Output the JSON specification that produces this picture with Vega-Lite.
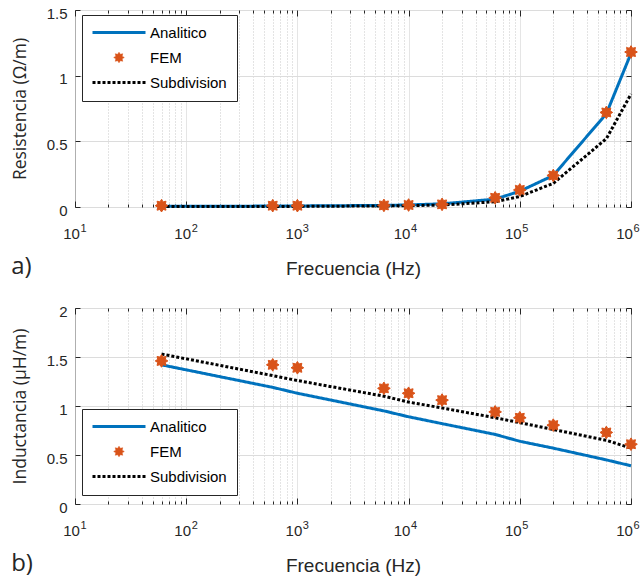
{
  "$schema": "https://vega.github.io/schema/vega-lite/v6.json",
  "padding": {"left": 10, "top": 5, "right": 5, "bottom": 0},
  "spacing": 23,
  "datasets": {
    "res": [
      {"f": 60, "serie": "Analitico", "v": 0.005},
      {"f": 600, "serie": "Analitico", "v": 0.007},
      {"f": 1000, "serie": "Analitico", "v": 0.008},
      {"f": 6000, "serie": "Analitico", "v": 0.012},
      {"f": 10000, "serie": "Analitico", "v": 0.016},
      {"f": 20000, "serie": "Analitico", "v": 0.024},
      {"f": 60000, "serie": "Analitico", "v": 0.06},
      {"f": 100000, "serie": "Analitico", "v": 0.12},
      {"f": 200000, "serie": "Analitico", "v": 0.24},
      {"f": 600000, "serie": "Analitico", "v": 0.71},
      {"f": 1000000, "serie": "Analitico", "v": 1.17},
      {"f": 60, "serie": "FEM", "v": 0.01},
      {"f": 600, "serie": "FEM", "v": 0.01},
      {"f": 1000, "serie": "FEM", "v": 0.01},
      {"f": 6000, "serie": "FEM", "v": 0.012},
      {"f": 10000, "serie": "FEM", "v": 0.015},
      {"f": 20000, "serie": "FEM", "v": 0.02},
      {"f": 60000, "serie": "FEM", "v": 0.07},
      {"f": 100000, "serie": "FEM", "v": 0.13},
      {"f": 200000, "serie": "FEM", "v": 0.24},
      {"f": 600000, "serie": "FEM", "v": 0.72},
      {"f": 1000000, "serie": "FEM", "v": 1.18},
      {"f": 60, "serie": "Subdivision", "v": 0.003},
      {"f": 600, "serie": "Subdivision", "v": 0.004},
      {"f": 1000, "serie": "Subdivision", "v": 0.005},
      {"f": 6000, "serie": "Subdivision", "v": 0.008},
      {"f": 10000, "serie": "Subdivision", "v": 0.01},
      {"f": 20000, "serie": "Subdivision", "v": 0.015},
      {"f": 60000, "serie": "Subdivision", "v": 0.04},
      {"f": 100000, "serie": "Subdivision", "v": 0.08},
      {"f": 200000, "serie": "Subdivision", "v": 0.18},
      {"f": 600000, "serie": "Subdivision", "v": 0.52},
      {"f": 1000000, "serie": "Subdivision", "v": 0.86}
    ],
    "ind": [
      {"f": 60, "serie": "Analitico", "v": 1.42},
      {"f": 600, "serie": "Analitico", "v": 1.19},
      {"f": 1000, "serie": "Analitico", "v": 1.13},
      {"f": 6000, "serie": "Analitico", "v": 0.95},
      {"f": 10000, "serie": "Analitico", "v": 0.89},
      {"f": 20000, "serie": "Analitico", "v": 0.82},
      {"f": 60000, "serie": "Analitico", "v": 0.71},
      {"f": 100000, "serie": "Analitico", "v": 0.64},
      {"f": 200000, "serie": "Analitico", "v": 0.57},
      {"f": 600000, "serie": "Analitico", "v": 0.45},
      {"f": 1000000, "serie": "Analitico", "v": 0.39},
      {"f": 60, "serie": "FEM", "v": 1.46},
      {"f": 600, "serie": "FEM", "v": 1.42},
      {"f": 1000, "serie": "FEM", "v": 1.39},
      {"f": 6000, "serie": "FEM", "v": 1.18},
      {"f": 10000, "serie": "FEM", "v": 1.13},
      {"f": 20000, "serie": "FEM", "v": 1.06},
      {"f": 60000, "serie": "FEM", "v": 0.94},
      {"f": 100000, "serie": "FEM", "v": 0.88},
      {"f": 200000, "serie": "FEM", "v": 0.805},
      {"f": 600000, "serie": "FEM", "v": 0.73},
      {"f": 1000000, "serie": "FEM", "v": 0.61},
      {"f": 60, "serie": "Subdivision", "v": 1.53},
      {"f": 600, "serie": "Subdivision", "v": 1.31},
      {"f": 1000, "serie": "Subdivision", "v": 1.26},
      {"f": 6000, "serie": "Subdivision", "v": 1.10},
      {"f": 10000, "serie": "Subdivision", "v": 1.04},
      {"f": 20000, "serie": "Subdivision", "v": 0.98},
      {"f": 60000, "serie": "Subdivision", "v": 0.88},
      {"f": 100000, "serie": "Subdivision", "v": 0.83},
      {"f": 200000, "serie": "Subdivision", "v": 0.76},
      {"f": 600000, "serie": "Subdivision", "v": 0.65},
      {"f": 1000000, "serie": "Subdivision", "v": 0.57}
    ]
  },
  "config": {
    "view": {"stroke": "#262626", "strokeWidth": 1},
    "axis": {
      "domain": false,
      "labelFont": "Liberation Sans",
      "labelFontSize": 15,
      "labelColor": "#262626",
      "titleFont": "Liberation Sans",
      "titleFontWeight": "normal",
      "titleColor": "#262626",
      "tickColor": "#262626",
      "gridColor": "#dcdcdc",
      "gridWidth": 1
    },
    "legend": {
      "labelFont": "Liberation Sans",
      "labelFontSize": 15,
      "labelColor": "#000000"
    },
    "title": {
      "font": "Open Sans",
      "fontSize": 24,
      "fontWeight": "normal",
      "color": "#262626"
    }
  },
  "resolve": {"scale": {"y": "independent", "color": "independent"}, "legend": {"color": "independent"}},
  "vconcat": [
    {
      "width": 556,
      "height": 197,
      "data": {"name": "res"},
      "title": {"text": "a)", "orient": "bottom", "anchor": "start", "frame": "bounds", "offset": -23},
      "resolve": {"axis": {"x": "independent", "y": "independent"}},
      "layer": [
        {
          "transform": [{"filter": "datum.serie !== 'FEM'"}],
          "mark": {"type": "line", "strokeWidth": 3},
          "encoding": {
            "x": {
              "field": "f", "type": "quantitative",
              "scale": {"type": "log", "domain": [10, 1000000], "nice": false},
              "axis": {
                "title": "Frecuencia (Hz)",
                "titleFontSize": 19,
                "titlePadding": 15,
                "values": [10,20,30,40,50,60,70,80,90,100,200,300,400,500,600,700,800,900,1000,2000,3000,4000,5000,6000,7000,8000,9000,10000,20000,30000,40000,50000,60000,70000,80000,90000,100000,200000,300000,400000,500000,600000,700000,800000,900000,1000000],
                "labelExpr": "abs(log(datum.value)/LN10 - round(log(datum.value)/LN10)) < 0.001 ? '10' : ''",
                "labelOverlap": false,
                "labelFlush": false,
                "labelPadding": 25,
                "labelOffset": {"condition": {"test": "datum.value >= 9999", "value": -7}, "value": -4},
                "tickSize": {"condition": {"test": "abs(log(datum.value)/LN10 - round(log(datum.value)/LN10)) < 0.001", "value": -6}, "value": -3},
                "gridDash": {"condition": {"test": "abs(log(datum.value)/LN10 - round(log(datum.value)/LN10)) < 0.001", "value": [1, 0]}, "value": [1, 2]},
                "gridColor": {"condition": {"test": "abs(log(datum.value)/LN10 - round(log(datum.value)/LN10)) < 0.001", "value": "#dcdcdc"}, "value": "#c8c8c8"}
              }
            },
            "y": {
              "field": "v", "type": "quantitative",
              "scale": {"domain": [0, 1.5], "nice": false, "zero": false},
              "axis": {
                "title": "Resistencia (Ω/m)",
                "titleFont": "Open Sans",
                "titleFontSize": 17.5,
                "titlePadding": 17,
                "values": [0, 0.5, 1, 1.5],
                "format": "~g",
                "tickSize": -5,
                "labelPadding": 13,
                "labelOffset": 3
              }
            },
            "color": {
              "field": "serie", "type": "nominal",
              "scale": {"domain": ["Analitico", "FEM", "Subdivision"], "range": ["#0072BD", "#D95319", "#000000"]},
              "legend": {
                "title": null, "orient": "none", "legendX": 7, "legendY": 5,
                "fillColor": "white", "strokeColor": "#262626", "padding": 10,
                "symbolType": "stroke", "symbolSize": 2809, "symbolStrokeWidth": 3,
                "labelOffset": 5, "rowPadding": 9,
                "encode": {
                  "symbols": {"update": {
                    "x": {"value": 27},
                    "shape": {"signal": "datum.value === 'FEM' ? 'M0,-0.2L0.05,-0.12L0.141,-0.141L0.12,-0.05L0.2,0L0.12,0.05L0.141,0.141L0.05,0.12L0,0.2L-0.05,0.12L-0.141,0.141L-0.12,0.05L-0.2,0L-0.12,-0.05L-0.141,-0.141L-0.05,-0.12Z' : 'stroke'"},
                    "fill": {"signal": "datum.value === 'FEM' ? '#D95319' : 'transparent'"},
                    "stroke": {"signal": "datum.value === 'FEM' ? '#D95319' : (datum.value === 'Analitico' ? '#0072BD' : '#000000')"},
                    "strokeDash": {"signal": "datum.value === 'Subdivision' ? [3, 2] : [1, 0]"},
                    "strokeWidth": {"signal": "datum.value === 'FEM' ? 0.5 : 3"},
                    "opacity": {"value": 1}
                  }},
                  "labels": {"update": {"x": {"value": 58}}}
                }
              }
            },
            "strokeDash": {"condition": {"test": "datum.serie === 'Subdivision'", "value": [3, 2]}, "value": [1, 0]}
          }
        },
        {
          "transform": [{"filter": "datum.serie === 'FEM'"}],
          "mark": {"type": "point", "shape": "M0,-1L0.249,-0.6L0.707,-0.707L0.6,-0.249L1,0L0.6,0.249L0.707,0.707L0.249,0.6L0,1L-0.249,0.6L-0.707,0.707L-0.6,0.249L-1,0L-0.6,-0.249L-0.707,-0.707L-0.249,-0.6Z", "filled": true, "size": 160, "color": "#D95319", "stroke": "#D95319", "strokeWidth": 1, "opacity": 1},
          "encoding": {
            "x": {
              "field": "f", "type": "quantitative",
              "scale": {"type": "log", "domain": [10, 1000000], "nice": false},
              "axis": {
                "orient": "bottom",
                "title": null,
                "values": [10, 100, 1000, 10000, 100000, 1000000],
                "labelExpr": "'' + round(log(datum.value)/LN10)",
                "labelFontSize": 11,
                "labelOverlap": false,
                "labelFlush": false,
                "labelPadding": 15,
                "labelOffset": {"condition": {"test": "datum.value >= 9999", "value": 5}, "value": 8},
                "ticks": false,
                "grid": false
              }
            },
            "y": {
              "field": "v", "type": "quantitative",
              "scale": {"domain": [0, 1.5], "nice": false, "zero": false},
              "axis": {
                "orient": "right",
                "title": null,
                "values": [0, 0.5, 1, 1.5],
                "labels": false,
                "grid": false,
                "tickSize": -5
              }
            }
          }
        },
        {
          "mark": {"type": "rule", "opacity": 0},
          "encoding": {
            "x": {
              "datum": 10, "type": "quantitative",
              "scale": {"type": "log", "domain": [10, 1000000], "nice": false},
              "axis": {
                "orient": "top",
                "title": null,
                "values": [10,20,30,40,50,60,70,80,90,100,200,300,400,500,600,700,800,900,1000,2000,3000,4000,5000,6000,7000,8000,9000,10000,20000,30000,40000,50000,60000,70000,80000,90000,100000,200000,300000,400000,500000,600000,700000,800000,900000,1000000],
                "labels": false,
                "grid": false,
                "tickSize": {"condition": {"test": "abs(log(datum.value)/LN10 - round(log(datum.value)/LN10)) < 0.001", "value": -6}, "value": -3}
              }
            }
          }
        }
      ]
    },
    {
      "width": 556,
      "height": 196,
      "data": {"name": "ind"},
      "title": {"text": "b)", "orient": "bottom", "anchor": "start", "frame": "bounds", "offset": -23},
      "resolve": {"axis": {"x": "independent", "y": "independent"}},
      "layer": [
        {
          "transform": [{"filter": "datum.serie !== 'FEM'"}],
          "mark": {"type": "line", "strokeWidth": 3},
          "encoding": {
            "x": {
              "field": "f", "type": "quantitative",
              "scale": {"type": "log", "domain": [10, 1000000], "nice": false},
              "axis": {
                "title": "Frecuencia (Hz)",
                "titleFontSize": 19,
                "titlePadding": 15,
                "values": [10,20,30,40,50,60,70,80,90,100,200,300,400,500,600,700,800,900,1000,2000,3000,4000,5000,6000,7000,8000,9000,10000,20000,30000,40000,50000,60000,70000,80000,90000,100000,200000,300000,400000,500000,600000,700000,800000,900000,1000000],
                "labelExpr": "abs(log(datum.value)/LN10 - round(log(datum.value)/LN10)) < 0.001 ? '10' : ''",
                "labelOverlap": false,
                "labelFlush": false,
                "labelPadding": 25,
                "labelOffset": {"condition": {"test": "datum.value >= 9999", "value": -7}, "value": -4},
                "tickSize": {"condition": {"test": "abs(log(datum.value)/LN10 - round(log(datum.value)/LN10)) < 0.001", "value": -6}, "value": -3},
                "gridDash": {"condition": {"test": "abs(log(datum.value)/LN10 - round(log(datum.value)/LN10)) < 0.001", "value": [1, 0]}, "value": [1, 2]},
                "gridColor": {"condition": {"test": "abs(log(datum.value)/LN10 - round(log(datum.value)/LN10)) < 0.001", "value": "#dcdcdc"}, "value": "#c8c8c8"}
              }
            },
            "y": {
              "field": "v", "type": "quantitative",
              "scale": {"domain": [0, 2], "nice": false, "zero": false},
              "axis": {
                "title": "Inductancia (µH/m)",
                "titleFont": "Open Sans",
                "titleFontSize": 17.5,
                "titlePadding": 17,
                "values": [0, 0.5, 1, 1.5, 2],
                "format": "~g",
                "tickSize": -5,
                "labelPadding": 13,
                "labelOffset": 3
              }
            },
            "color": {
              "field": "serie", "type": "nominal",
              "scale": {"domain": ["Analitico", "FEM", "Subdivision"], "range": ["#0072BD", "#D95319", "#000000"]},
              "legend": {
                "title": null, "orient": "none", "legendX": 7, "legendY": 101,
                "fillColor": "white", "strokeColor": "#262626", "padding": 10,
                "symbolType": "stroke", "symbolSize": 2809, "symbolStrokeWidth": 3,
                "labelOffset": 5, "rowPadding": 9,
                "encode": {
                  "symbols": {"update": {
                    "x": {"value": 27},
                    "shape": {"signal": "datum.value === 'FEM' ? 'M0,-0.2L0.05,-0.12L0.141,-0.141L0.12,-0.05L0.2,0L0.12,0.05L0.141,0.141L0.05,0.12L0,0.2L-0.05,0.12L-0.141,0.141L-0.12,0.05L-0.2,0L-0.12,-0.05L-0.141,-0.141L-0.05,-0.12Z' : 'stroke'"},
                    "fill": {"signal": "datum.value === 'FEM' ? '#D95319' : 'transparent'"},
                    "stroke": {"signal": "datum.value === 'FEM' ? '#D95319' : (datum.value === 'Analitico' ? '#0072BD' : '#000000')"},
                    "strokeDash": {"signal": "datum.value === 'Subdivision' ? [3, 2] : [1, 0]"},
                    "strokeWidth": {"signal": "datum.value === 'FEM' ? 0.5 : 3"},
                    "opacity": {"value": 1}
                  }},
                  "labels": {"update": {"x": {"value": 58}}}
                }
              }
            },
            "strokeDash": {"condition": {"test": "datum.serie === 'Subdivision'", "value": [3, 2]}, "value": [1, 0]}
          }
        },
        {
          "transform": [{"filter": "datum.serie === 'FEM'"}],
          "mark": {"type": "point", "shape": "M0,-1L0.249,-0.6L0.707,-0.707L0.6,-0.249L1,0L0.6,0.249L0.707,0.707L0.249,0.6L0,1L-0.249,0.6L-0.707,0.707L-0.6,0.249L-1,0L-0.6,-0.249L-0.707,-0.707L-0.249,-0.6Z", "filled": true, "size": 160, "color": "#D95319", "stroke": "#D95319", "strokeWidth": 1, "opacity": 1},
          "encoding": {
            "x": {
              "field": "f", "type": "quantitative",
              "scale": {"type": "log", "domain": [10, 1000000], "nice": false},
              "axis": {
                "orient": "bottom",
                "title": null,
                "values": [10, 100, 1000, 10000, 100000, 1000000],
                "labelExpr": "'' + round(log(datum.value)/LN10)",
                "labelFontSize": 11,
                "labelOverlap": false,
                "labelFlush": false,
                "labelPadding": 15,
                "labelOffset": {"condition": {"test": "datum.value >= 9999", "value": 5}, "value": 8},
                "ticks": false,
                "grid": false
              }
            },
            "y": {
              "field": "v", "type": "quantitative",
              "scale": {"domain": [0, 2], "nice": false, "zero": false},
              "axis": {
                "orient": "right",
                "title": null,
                "values": [0, 0.5, 1, 1.5, 2],
                "labels": false,
                "grid": false,
                "tickSize": -5
              }
            }
          }
        },
        {
          "mark": {"type": "rule", "opacity": 0},
          "encoding": {
            "x": {
              "datum": 10, "type": "quantitative",
              "scale": {"type": "log", "domain": [10, 1000000], "nice": false},
              "axis": {
                "orient": "top",
                "title": null,
                "values": [10,20,30,40,50,60,70,80,90,100,200,300,400,500,600,700,800,900,1000,2000,3000,4000,5000,6000,7000,8000,9000,10000,20000,30000,40000,50000,60000,70000,80000,90000,100000,200000,300000,400000,500000,600000,700000,800000,900000,1000000],
                "labels": false,
                "grid": false,
                "tickSize": {"condition": {"test": "abs(log(datum.value)/LN10 - round(log(datum.value)/LN10)) < 0.001", "value": -6}, "value": -3}
              }
            }
          }
        }
      ]
    }
  ]
}
